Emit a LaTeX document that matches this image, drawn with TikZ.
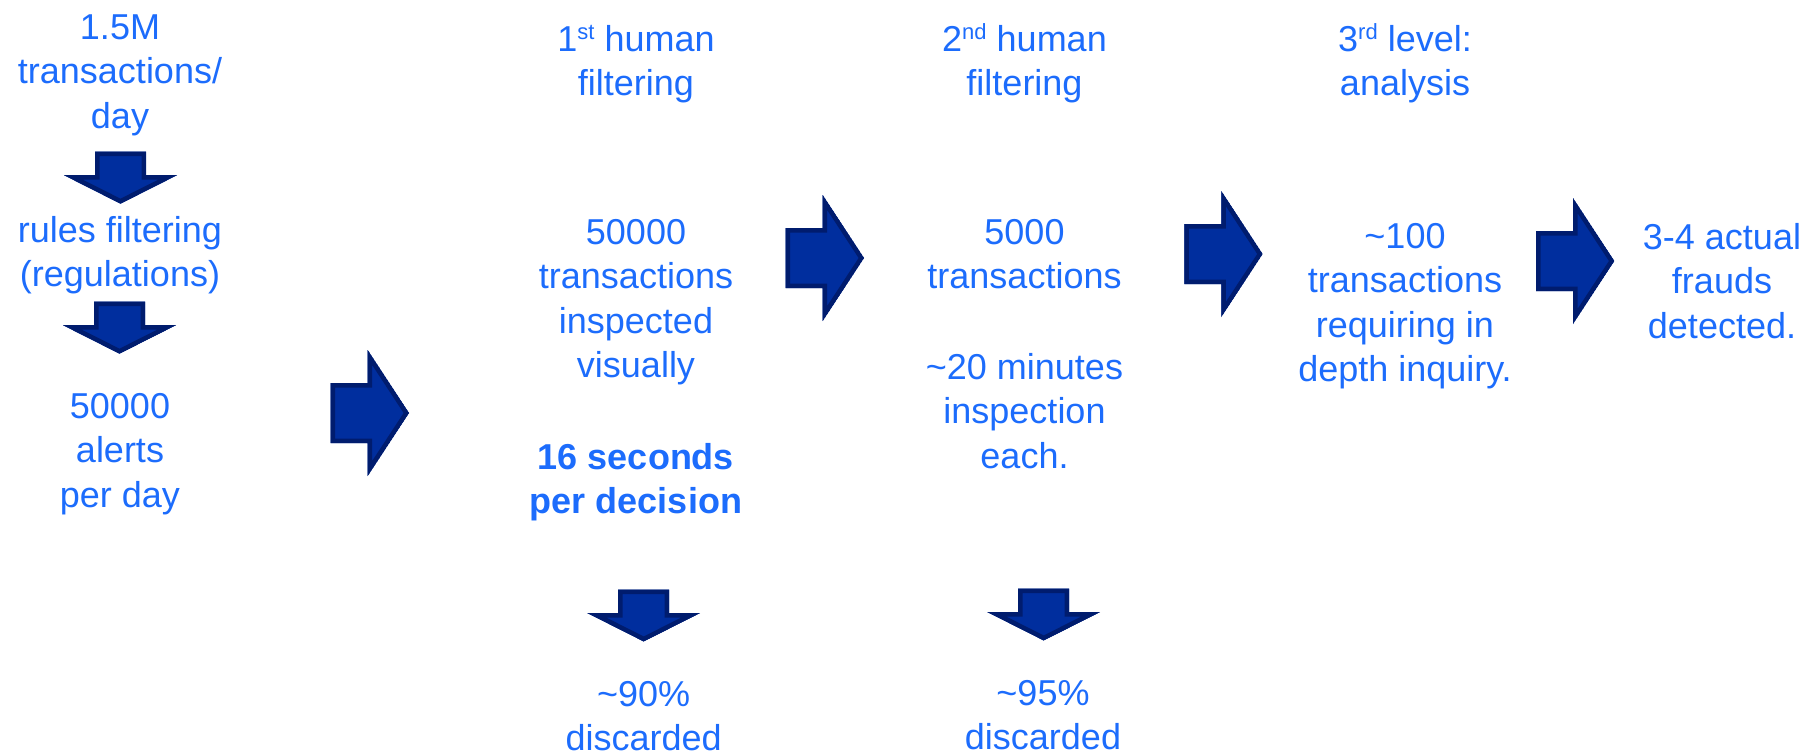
\documentclass[tikz,border=0pt]{standalone}
\usepackage{fontspec}
\setmainfont{Liberation Sans}
\definecolor{txtblue}{RGB}{28,108,252}
\definecolor{arrowfill}{RGB}{0,46,158}
\definecolor{arrowedge}{RGB}{0,28,110}
\newcommand\tstrut{\rule{0pt}{36pt}}
\newcommand\sups[1]{\raisebox{12pt}{\fontsize{22}{22}\selectfont #1}}
\tikzset{
  txt/.style={font=\fontsize{36}{44.5}\selectfont, text=txtblue, align=center, inner sep=0pt, anchor=north},
  btxt/.style={txt, font=\fontsize{36}{44.5}\selectfont\bfseries},
  rblock/.pic={
    \begin{scope}
      \clip (0,-30) -- (37,-30) -- (37,-63) -- (78.3,0) -- (37,63) -- (37,30) -- (0,30) -- cycle;
      \fill[arrowfill] (0,-30) -- (37,-30) -- (37,-63) -- (78.3,0) -- (37,63) -- (37,30) -- (0,30) -- cycle;
      \draw[arrowedge, line width=9pt] (0,-30) -- (37,-30) -- (37,-63) -- (78.3,0) -- (37,63) -- (37,30) -- (0,30) -- cycle;
    \end{scope}
  },
  dblock/.pic={
    \begin{scope}
      \clip (-25.5,0) -- (25.5,0) -- (25.5,23.5) -- (56.5,23.5) -- (0,52) -- (-56.5,23.5) -- (-25.5,23.5) -- cycle;
      \fill[arrowfill] (-25.5,0) -- (25.5,0) -- (25.5,23.5) -- (56.5,23.5) -- (0,52) -- (-56.5,23.5) -- (-25.5,23.5) -- cycle;
      \draw[arrowedge, line width=9pt] (-25.5,0) -- (25.5,0) -- (25.5,23.5) -- (56.5,23.5) -- (0,52) -- (-56.5,23.5) -- (-25.5,23.5) -- cycle;
    \end{scope}
  }
}
\begin{document}
\begin{tikzpicture}[x=1pt,y=-1pt]
\useasboundingbox (0,0) rectangle (1805,755);
% column 1
\node[txt] (c1a) at (120,3) {\tstrut 1.5M\\transactions/\\day};
\pic at (120.5,151.7) {dblock};
\node[txt] (c1b) at (120,206) {\tstrut rules filtering\\(regulations)};
\pic at (119.5,301.7) {dblock};
\node[txt] (c1c) at (120,382) {\tstrut 50000\\alerts\\per day};
\pic at (330.7,413) {rblock};
% column 2
\node[txt] (c2h) at (636,15) {\tstrut 1\sups{st} human\\filtering};
\node[txt] (c2b) at (636,208) {\tstrut 50000\\transactions\\inspected\\visually};
\node[btxt] (c2c) at (636,433) {\tstrut 16 seconds\\per decision};
\pic at (643.7,589.5) {dblock};
\node[txt] (c2d) at (643.7,670) {\tstrut \textasciitilde90\%\\discarded};
\pic at (785.7,258) {rblock};
% column 3
\node[txt] (c3h) at (1024.5,15) {\tstrut 2\sups{nd} human\\filtering};
\node[txt] (c3b) at (1024.5,208) {\tstrut 5000\\transactions};
\node[txt] (c3c) at (1024.5,343) {\tstrut \textasciitilde20 minutes\\inspection\\each.};
\pic at (1043.7,588.5) {dblock};
\node[txt] (c3d) at (1043,669) {\tstrut \textasciitilde95\%\\discarded};
\pic at (1184.3,254) {rblock};
% column 4
\node[txt] (c4h) at (1405,15) {\tstrut 3\sups{rd} level:\\analysis};
\node[txt] (c4b) at (1405,212) {\tstrut \textasciitilde100\\transactions\\requiring in\\depth inquiry.};
\pic at (1536,261) {rblock};
% column 5
\node[txt] (c5) at (1722,213) {\tstrut 3-4 actual\\frauds\\detected.};
\end{tikzpicture}
\end{document}
